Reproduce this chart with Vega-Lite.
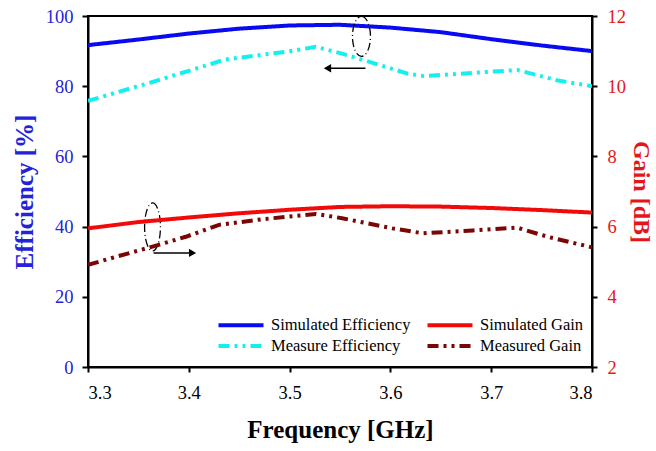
{
  "$schema": "https://vega.github.io/schema/vega-lite/v6.json",
  "autosize": {"type": "none"},
  "width": 504,
  "height": 351,
  "padding": {"left": 88, "top": 16, "right": 64, "bottom": 84},
  "background": "white",
  "config": {
    "view": {"stroke": "black", "strokeWidth": 2},
    "font": "Liberation Serif",
    "axis": {"grid": false, "domainColor": "black", "domainWidth": 2, "tickColor": "black", "tickWidth": 2, "tickSize": 5, "labelFont": "Liberation Serif", "labelFontSize": 18.5, "titleFont": "Liberation Serif", "titleFontWeight": "bold"},
    "legend": {"orient": "none", "legendX": 141, "legendY": 297, "columns": 2, "symbolType": "M-2.25,0H2.25", "symbolSize": 400, "symbolStrokeWidth": 4, "labelFont": "Liberation Serif", "labelFontSize": 16.5, "labelColor": "black", "columnPadding": 8, "rowPadding": 0, "labelOffset": 18}
  },
  "datasets": {
    "eff": [
      {"f": 3.3, "v": 91.7, "series": "Simulated Efficiency"},
      {"f": 3.35, "v": 93.3, "series": "Simulated Efficiency"},
      {"f": 3.4, "v": 95.0, "series": "Simulated Efficiency"},
      {"f": 3.45, "v": 96.4, "series": "Simulated Efficiency"},
      {"f": 3.5, "v": 97.3, "series": "Simulated Efficiency"},
      {"f": 3.55, "v": 97.5, "series": "Simulated Efficiency"},
      {"f": 3.6, "v": 96.7, "series": "Simulated Efficiency"},
      {"f": 3.65, "v": 95.4, "series": "Simulated Efficiency"},
      {"f": 3.7, "v": 93.4, "series": "Simulated Efficiency"},
      {"f": 3.75, "v": 91.6, "series": "Simulated Efficiency"},
      {"f": 3.8, "v": 90.0, "series": "Simulated Efficiency"},
      {"f": 3.3, "v": 75.8, "series": "Measure Efficiency"},
      {"f": 3.327, "v": 78.1, "series": "Measure Efficiency"},
      {"f": 3.364, "v": 81.2, "series": "Measure Efficiency"},
      {"f": 3.407, "v": 85.0, "series": "Measure Efficiency"},
      {"f": 3.436, "v": 87.6, "series": "Measure Efficiency"},
      {"f": 3.496, "v": 89.8, "series": "Measure Efficiency"},
      {"f": 3.526, "v": 91.2, "series": "Measure Efficiency"},
      {"f": 3.552, "v": 89.3, "series": "Measure Efficiency"},
      {"f": 3.617, "v": 83.6, "series": "Measure Efficiency"},
      {"f": 3.633, "v": 82.9, "series": "Measure Efficiency"},
      {"f": 3.682, "v": 83.8, "series": "Measure Efficiency"},
      {"f": 3.726, "v": 84.6, "series": "Measure Efficiency"},
      {"f": 3.765, "v": 81.7, "series": "Measure Efficiency"},
      {"f": 3.8, "v": 80.0, "series": "Measure Efficiency"}
    ],
    "gain": [
      {"f": 3.3, "v": 5.95, "series": "Simulated Gain"},
      {"f": 3.35, "v": 6.13, "series": "Simulated Gain"},
      {"f": 3.4, "v": 6.26, "series": "Simulated Gain"},
      {"f": 3.45, "v": 6.38, "series": "Simulated Gain"},
      {"f": 3.5, "v": 6.48, "series": "Simulated Gain"},
      {"f": 3.55, "v": 6.56, "series": "Simulated Gain"},
      {"f": 3.6, "v": 6.58, "series": "Simulated Gain"},
      {"f": 3.65, "v": 6.57, "series": "Simulated Gain"},
      {"f": 3.7, "v": 6.53, "series": "Simulated Gain"},
      {"f": 3.75, "v": 6.47, "series": "Simulated Gain"},
      {"f": 3.8, "v": 6.40, "series": "Simulated Gain"},
      {"f": 3.3, "v": 4.91, "series": "Measured Gain"},
      {"f": 3.329, "v": 5.15, "series": "Measured Gain"},
      {"f": 3.364, "v": 5.43, "series": "Measured Gain"},
      {"f": 3.397, "v": 5.71, "series": "Measured Gain"},
      {"f": 3.43, "v": 6.05, "series": "Measured Gain"},
      {"f": 3.473, "v": 6.21, "series": "Measured Gain"},
      {"f": 3.526, "v": 6.36, "series": "Measured Gain"},
      {"f": 3.552, "v": 6.24, "series": "Measured Gain"},
      {"f": 3.602, "v": 5.95, "series": "Measured Gain"},
      {"f": 3.632, "v": 5.81, "series": "Measured Gain"},
      {"f": 3.682, "v": 5.89, "series": "Measured Gain"},
      {"f": 3.726, "v": 5.97, "series": "Measured Gain"},
      {"f": 3.756, "v": 5.71, "series": "Measured Gain"},
      {"f": 3.8, "v": 5.41, "series": "Measured Gain"}
    ],
    "ellipses": [
      {"f": 3.5713, "v": 94.2, "kind": "a"},
      {"f": 3.364, "v": 39.9, "kind": "b"}
    ],
    "arrows": [
      {"f": 3.5376, "f2": 3.5753, "v": 85.1, "dir": "left"},
      {"f": 3.365, "f2": 3.4037, "v": 32.5, "dir": "right"}
    ]
  },
  "encoding": {
    "x": {"field": "f", "type": "quantitative", "scale": {"domain": [3.3, 3.8], "nice": false, "zero": false},
      "axis": {"values": [3.3, 3.4, 3.5, 3.6, 3.7, 3.8], "format": ".1f", "labelFont": "Liberation Serif", "labelFontSize": 18.5, "labelColor": "black", "labelPadding": 11, "title": "Frequency [GHz]", "titleFont": "Liberation Serif", "titleFontSize": 25, "titleColor": "black", "titlePadding": 16}}
  },
  "layer": [
    {
      "layer": [
        {
          "data": {"name": "eff"},
          "mark": {"type": "line", "strokeWidth": 4, "clip": true},
          "encoding": {
            "y": {"field": "v", "type": "quantitative", "scale": {"domain": [0, 100], "nice": false},
              "axis": {"orient": "left", "values": [0, 20, 40, 60, 80, 100], "tickSize": 6, "labelPadding": 9, "labelFont": "Liberation Serif", "labelFontSize": 18.5, "labelColor": "#2323d8", "title": "Efficiency [%]", "titleFont": "Liberation Serif", "titleColor": "#2323d8", "titleFontSize": 25, "titlePadding": 8}},
            "color": {"field": "series", "type": "nominal",
              "scale": {"domain": ["Simulated Efficiency", "Measure Efficiency", "Simulated Gain", "Measured Gain"], "range": ["#0a0af0", "#14f0f0", "#f20a0a", "#7a0606"]},
              "legend": {"title": null}},
            "strokeDash": {"field": "series", "type": "nominal",
              "scale": {"domain": ["Simulated Efficiency", "Measure Efficiency", "Simulated Gain", "Measured Gain"], "range": [[1, 0], [11, 5, 3, 5, 3, 5], [1, 0], [11, 5, 3, 5, 3, 5]]},
              "legend": {"title": null}}
          }
        },
        {
          "data": {"name": "ellipses"},
          "transform": [{"filter": "datum.kind == 'a'"}],
          "mark": {"type": "point", "shape": "M0,-1A0.45,1 0 1,1 0,1A0.45,1 0 1,1 0,-1", "size": 1600, "filled": false, "stroke": "black", "strokeWidth": 1.3, "strokeDash": [8, 3, 1, 3], "opacity": 1},
          "encoding": {"y": {"field": "v", "type": "quantitative"}}
        },
        {
          "data": {"name": "ellipses"},
          "transform": [{"filter": "datum.kind == 'b'"}],
          "mark": {"type": "point", "shape": "M0,-1A0.33,1 0 1,1 0,1A0.33,1 0 1,1 0,-1", "size": 2304, "filled": false, "stroke": "black", "strokeWidth": 1.3, "strokeDash": [8, 3, 1, 3], "opacity": 1},
          "encoding": {"y": {"field": "v", "type": "quantitative"}}
        },
        {
          "data": {"name": "arrows"},
          "mark": {"type": "rule", "color": "black", "strokeWidth": 1.5},
          "encoding": {"x2": {"field": "f2"}, "y": {"field": "v", "type": "quantitative"}}
        },
        {
          "data": {"name": "arrows"},
          "transform": [{"filter": "datum.dir == 'left'"}],
          "mark": {"type": "point", "shape": "triangle-left", "filled": true, "color": "black", "size": 70, "opacity": 1},
          "encoding": {"y": {"field": "v", "type": "quantitative"}}
        },
        {
          "data": {"name": "arrows"},
          "transform": [{"filter": "datum.dir == 'right'"}],
          "mark": {"type": "point", "shape": "triangle-right", "filled": true, "color": "black", "size": 70, "opacity": 1},
          "encoding": {"x": {"field": "f2", "type": "quantitative"}, "y": {"field": "v", "type": "quantitative"}}
        }
      ]
    },
    {
      "data": {"name": "gain"},
      "mark": {"type": "line", "strokeWidth": 4, "clip": true},
      "encoding": {
        "y": {"field": "v", "type": "quantitative", "scale": {"domain": [2, 12], "nice": false},
          "axis": {"orient": "right", "values": [2, 4, 6, 8, 10, 12], "tickSize": 5, "labelPadding": 10, "labelFont": "Liberation Serif", "labelFontSize": 18.5, "labelColor": "#e5161b", "title": "Gain [dB]", "titleFont": "Liberation Serif", "titleColor": "#e5161b", "titleFontSize": 24, "titlePadding": 3}},
        "color": {"field": "series", "type": "nominal"},
        "strokeDash": {"field": "series", "type": "nominal"}
      }
    }
  ],
  "resolve": {"scale": {"y": "independent"}}
}
